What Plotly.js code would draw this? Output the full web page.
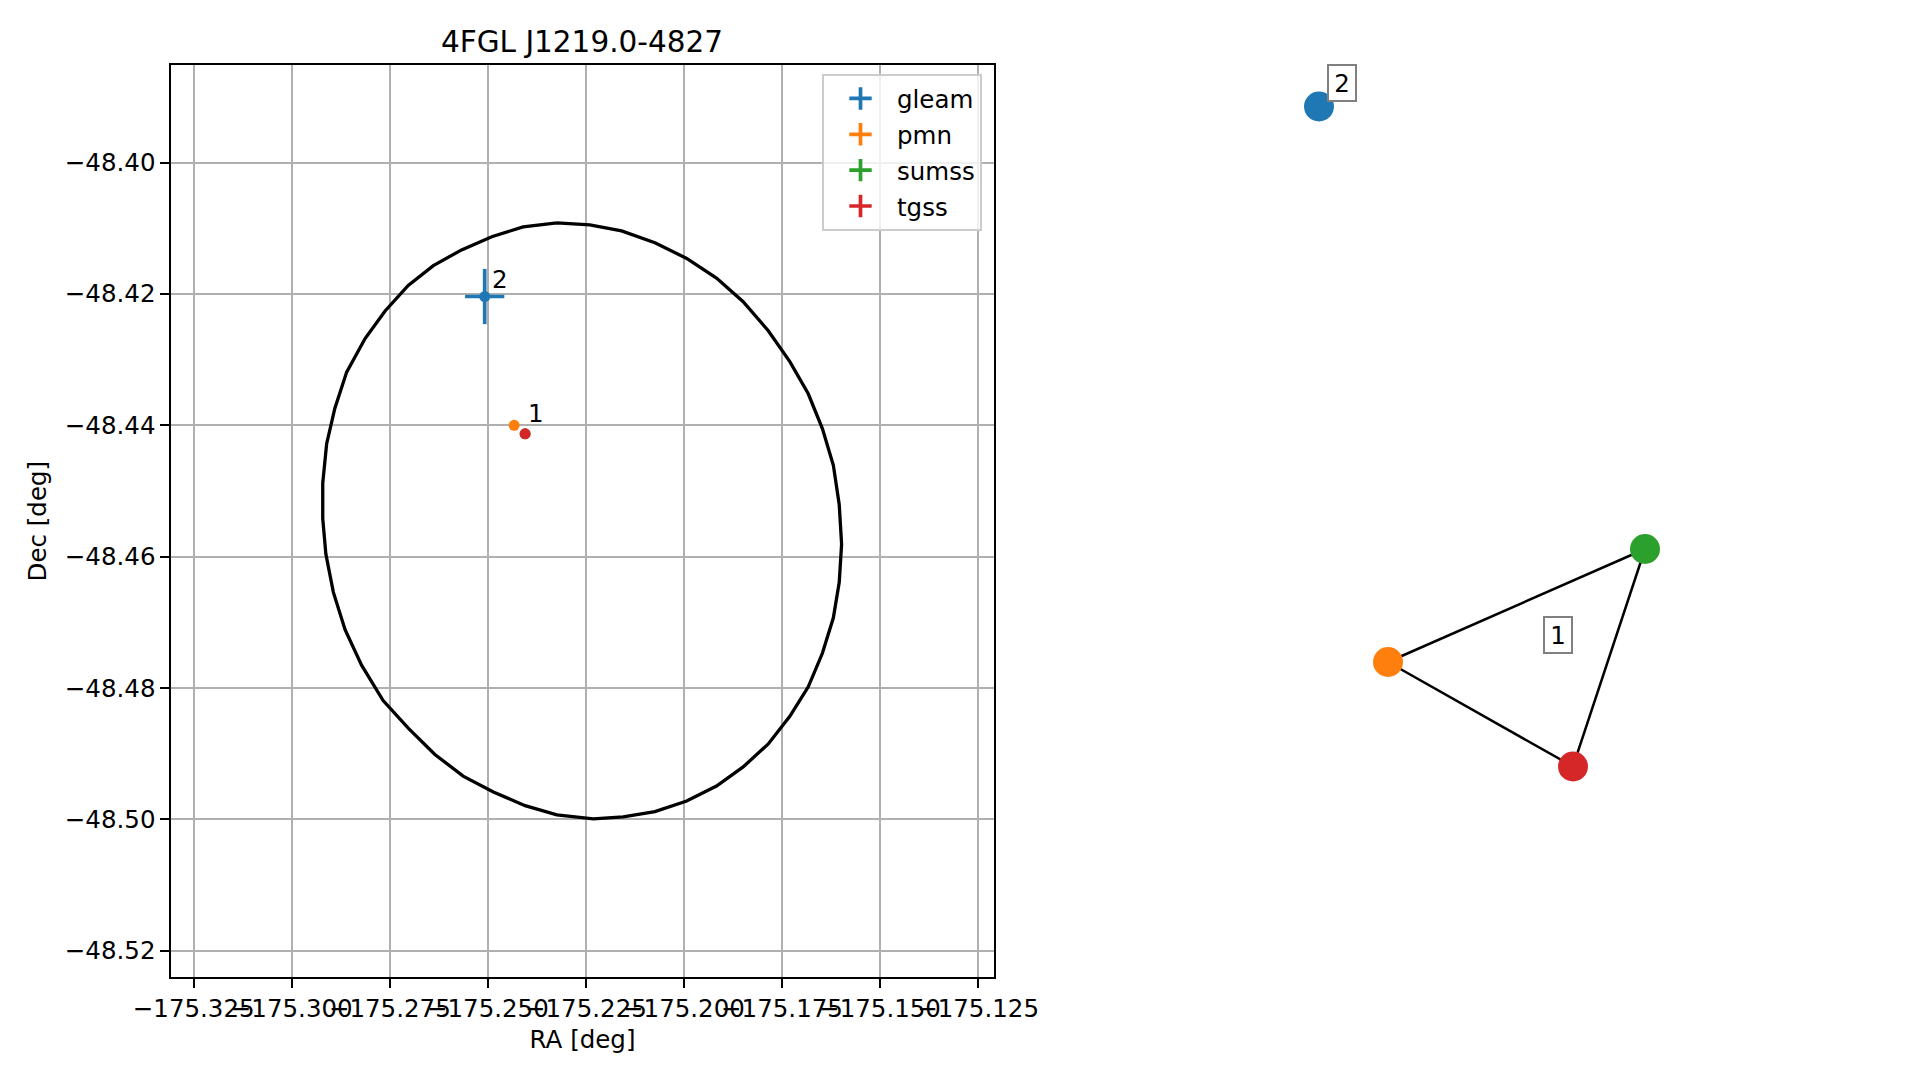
<!DOCTYPE html>
<html>
<head>
<meta charset="utf-8">
<script src="https://cdn.plot.ly/plotly-3.0.1.min.js"></script>
<style>html,body{margin:0;padding:0;background:#fff;}#chart{width:1919px;height:1080px;}</style>
</head>
<body>
<div id="chart"></div>
<script>
// ---- Data ----
const chartTitle = '4FGL J1219.0-4827';
const raTickVals = [-175.325, -175.300, -175.275, -175.250, -175.225, -175.200, -175.175, -175.150, -175.125];
const raTickText = ['\u2212175.325', '\u2212175.300', '\u2212175.275', '\u2212175.250', '\u2212175.225', '\u2212175.200', '\u2212175.175', '\u2212175.150', '\u2212175.125'];
const decTickVals = [-48.40, -48.42, -48.44, -48.46, -48.48, -48.50, -48.52];
const decTickText = ['\u221248.40', '\u221248.42', '\u221248.44', '\u221248.46', '\u221248.48', '\u221248.50', '\u221248.52'];

// 4FGL error ellipse outline (vertices)
const ellipseRA = [
  -175.2324, -175.2410, -175.2490, -175.2567, -175.2639, -175.2703, -175.2762, -175.2813, -175.2860, -175.2890,
  -175.2911, -175.2921, -175.2921, -175.2913, -175.2894, -175.2864, -175.2822, -175.2767, -175.2703, -175.2635,
  -175.2563, -175.2486, -175.2405, -175.2324, -175.2231,
  -175.2155, -175.2074, -175.1993, -175.1917, -175.1849, -175.1785, -175.1730, -175.1683, -175.1647, -175.1619,
  -175.1604, -175.1598, -175.1604, -175.1619, -175.1647, -175.1683, -175.1730, -175.1785, -175.1849, -175.1917,
  -175.1993, -175.2074, -175.2159, -175.2240, -175.2324
];
const ellipseDec = [
  -48.4092, -48.4098, -48.4113, -48.4133, -48.4157, -48.4187, -48.4226, -48.4268, -48.4319, -48.4374,
  -48.4428, -48.4488, -48.4542, -48.4596, -48.4654, -48.4711, -48.4765, -48.4819, -48.4861, -48.4901,
  -48.4934, -48.4958, -48.4979, -48.4993, -48.4999,
  -48.4996, -48.4988, -48.4972, -48.4949, -48.4920, -48.4885, -48.4843, -48.4798, -48.4747, -48.4693,
  -48.4639, -48.4581, -48.4521, -48.4461, -48.4405, -48.4352, -48.4303, -48.4256, -48.4212, -48.4176,
  -48.4146, -48.4122, -48.4104, -48.4095, -48.4092
];

// Radio counterparts
const sourceNames = ['gleam', 'pmn', 'sumss', 'tgss'];
const sourceRA = [-175.2508, -175.2433, -175.2405, -175.2405];
const sourceDec = [-48.4204, -48.4400, -48.4413, -48.4413];
const sourceRAErr = [0.0050, 0.0004, 0.0004, 0.0004];
const sourceDecErr = [0.0042, 0.0004, 0.0004, 0.0004];
const sourceGroup = [2, 1, 1, 1];
const sourceColors = ['#1f77b4', '#ff7f0e', '#2ca02c', '#d62728'];

// Association graph (right panel), node layout positions
const nodeX = [1319, 1388, 1645, 1573];
const nodeY = [106.5, 662, 549, 766.5];
const edgeFrom = [1, 1, 2];
const edgeTo = [2, 3, 3];
const groupIds = [1, 2];

// ---- Build traces ----
const FONT = 'DejaVu Sans';
const traces = [];

traces.push({
  x: ellipseRA, y: ellipseDec, type: 'scatter', mode: 'lines',
  line: {color: '#000000', width: 3.3}, showlegend: false, hoverinfo: 'skip',
  xaxis: 'x', yaxis: 'y'
});

sourceNames.forEach((name, i) => {
  traces.push({
    x: [sourceRA[i]], y: [sourceDec[i]], type: 'scatter', mode: 'markers', name: name,
    marker: {color: sourceColors[i], size: 11},
    error_x: {type: 'data', array: [sourceRAErr[i]], thickness: 3.7, width: 0, color: sourceColors[i]},
    error_y: {type: 'data', array: [sourceDecErr[i]], thickness: 3.7, width: 0, color: sourceColors[i]},
    showlegend: false, xaxis: 'x', yaxis: 'y'
  });
});
// legend entries (errorbar-style cross symbols)
sourceNames.forEach((name, i) => {
  traces.push({
    x: [null], y: [null], type: 'scatter', mode: 'markers', name: name,
    legendgroup: name,
    marker: {symbol: 'cross-thin', size: 16, color: sourceColors[i], line: {color: sourceColors[i], width: 3.7}},
    showlegend: true, xaxis: 'x', yaxis: 'y'
  });
});

// Graph edges
const ex = [], ey = [];
for (let k = 0; k < edgeFrom.length; k++) {
  ex.push(nodeX[edgeFrom[k]], nodeX[edgeTo[k]], null);
  ey.push(nodeY[edgeFrom[k]], nodeY[edgeTo[k]], null);
}
traces.push({
  x: ex, y: ey, type: 'scatter', mode: 'lines', line: {color: '#000000', width: 2.5},
  showlegend: false, hoverinfo: 'skip', xaxis: 'x2', yaxis: 'y2'
});
traces.push({
  x: nodeX, y: nodeY, type: 'scatter', mode: 'markers',
  marker: {color: sourceColors, size: 30, line: {width: 0}},
  showlegend: false, xaxis: 'x2', yaxis: 'y2', cliponaxis: false
});

// ---- Annotations: group labels ----
const annotations = [];
function mean(a) { return a.reduce((s, v) => s + v, 0) / a.length; }
groupIds.forEach(g => {
  const idx = sourceGroup.map((v, i) => v === g ? i : -1).filter(i => i >= 0);
  annotations.push({
    xref: 'x', yref: 'y', x: mean(idx.map(i => sourceRA[i])), y: mean(idx.map(i => sourceDec[i])),
    text: String(g), showarrow: false, xshift: 15, yshift: 17,
    xanchor: 'center', yanchor: 'middle',
    font: {family: FONT, size: 24.5, color: '#000'}
  });
  annotations.push({
    xref: 'x2', yref: 'y2', x: mean(idx.map(i => nodeX[i])), y: mean(idx.map(i => nodeY[i])),
    text: String(g), showarrow: false, xshift: 23, yshift: 24,
    xanchor: 'center', yanchor: 'middle', width: 22, height: 30,
    bgcolor: '#ffffff', bordercolor: '#808080', borderwidth: 2, borderpad: 2,
    font: {family: FONT, size: 24.5, color: '#000'}
  });
});

const W = 1919, H = 1080;
const axL = 171, axR = 994, axT = 65, axB = 977.3;

const layout = {
  width: W, height: H,
  margin: {l: 0, r: 0, t: 0, b: 0, pad: 0, autoexpand: false},
  paper_bgcolor: '#ffffff', plot_bgcolor: 'rgba(0,0,0,0)',
  font: {family: FONT, size: 24.5, color: '#000'},
  title: {
    text: chartTitle, font: {family: FONT, size: 29.5, color: '#000'},
    xref: 'paper', yref: 'paper', x: 582 / W, xanchor: 'center', y: 1 - 41.4 / H, yanchor: 'middle'
  },
  xaxis: {
    domain: [axL / W, axR / W], range: [-175.33079, -175.12094],
    tickmode: 'array', tickvals: raTickVals, ticktext: raTickText, tickangle: 0,
    ticks: 'outside', ticklen: 8.6, tickwidth: 2, tickcolor: '#000',
    tickfont: {family: FONT, size: 24.5, color: '#000'},
    showgrid: true, gridcolor: '#b0b0b0', gridwidth: 2, zeroline: false,
    showline: true, linecolor: '#000', linewidth: 2, mirror: true,
    title: {text: 'RA [deg]', font: {family: FONT, size: 24.5, color: '#000'}, standoff: 8.5},
    automargin: false, anchor: 'y'
  },
  yaxis: {
    domain: [1 - axB / H, 1 - axT / H], range: [-48.52402, -48.38516],
    tickmode: 'array', tickvals: decTickVals, ticktext: decTickText,
    ticks: 'outside', ticklen: 8.6, tickwidth: 2, tickcolor: '#000',
    tickfont: {family: FONT, size: 24.5, color: '#000'},
    showgrid: true, gridcolor: '#b0b0b0', gridwidth: 2, zeroline: false,
    showline: true, linecolor: '#000', linewidth: 2, mirror: true,
    title: {text: 'Dec [deg]', font: {family: FONT, size: 24.5, color: '#000'}, standoff: 11.5},
    automargin: false, anchor: 'x'
  },
  xaxis2: {domain: [0.54, 1], range: [0.54 * W, W], visible: false, anchor: 'y2', fixedrange: true, automargin: false},
  yaxis2: {domain: [0, 1], range: [H, 0], visible: false, anchor: 'x2', fixedrange: true, automargin: false},
  showlegend: true,
  legend: {
    x: 982 / W, xanchor: 'right', y: 1 - 74 / H, yanchor: 'top',
    bgcolor: 'rgba(255,255,255,0.8)', bordercolor: '#cccccc', borderwidth: 2,
    font: {family: FONT, size: 24.5, color: '#000'},
    traceorder: 'grouped', tracegroupgap: 1, itemwidth: 63
  },
  annotations: annotations
};

Plotly.newPlot('chart', traces, layout, {displayModeBar: false, staticPlot: true});
</script>
</body>
</html>
